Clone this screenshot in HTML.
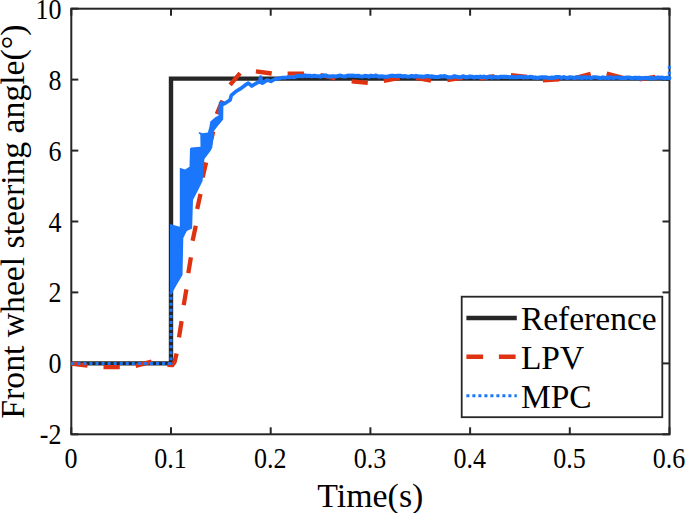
<!DOCTYPE html>
<html><head><meta charset="utf-8"><title>Front wheel steering angle</title>
<style>html,body{margin:0;padding:0;background:#fff;}body{width:685px;height:513px;overflow:hidden;font-family:"Liberation Serif",serif;}</style>
</head><body>
<svg width="685" height="513" viewBox="0 0 685 513" style="display:block">
<rect width="685" height="513" fill="#ffffff"/>
<g><rect x="71.3" y="8.7" width="598.2" height="425.6" fill="none" stroke="#262626" stroke-width="2"/><line x1="71.3" y1="434.3" x2="71.3" y2="427.3" stroke="#262626" stroke-width="2"/><line x1="71.3" y1="8.7" x2="71.3" y2="15.7" stroke="#262626" stroke-width="2"/><line x1="171.0" y1="434.3" x2="171.0" y2="427.3" stroke="#262626" stroke-width="2"/><line x1="171.0" y1="8.7" x2="171.0" y2="15.7" stroke="#262626" stroke-width="2"/><line x1="270.7" y1="434.3" x2="270.7" y2="427.3" stroke="#262626" stroke-width="2"/><line x1="270.7" y1="8.7" x2="270.7" y2="15.7" stroke="#262626" stroke-width="2"/><line x1="370.4" y1="434.3" x2="370.4" y2="427.3" stroke="#262626" stroke-width="2"/><line x1="370.4" y1="8.7" x2="370.4" y2="15.7" stroke="#262626" stroke-width="2"/><line x1="470.1" y1="434.3" x2="470.1" y2="427.3" stroke="#262626" stroke-width="2"/><line x1="470.1" y1="8.7" x2="470.1" y2="15.7" stroke="#262626" stroke-width="2"/><line x1="569.8" y1="434.3" x2="569.8" y2="427.3" stroke="#262626" stroke-width="2"/><line x1="569.8" y1="8.7" x2="569.8" y2="15.7" stroke="#262626" stroke-width="2"/><line x1="669.5" y1="434.3" x2="669.5" y2="427.3" stroke="#262626" stroke-width="2"/><line x1="669.5" y1="8.7" x2="669.5" y2="15.7" stroke="#262626" stroke-width="2"/><line x1="71.3" y1="434.3" x2="78.3" y2="434.3" stroke="#262626" stroke-width="2"/><line x1="669.5" y1="434.3" x2="662.5" y2="434.3" stroke="#262626" stroke-width="2"/><line x1="71.3" y1="363.4" x2="78.3" y2="363.4" stroke="#262626" stroke-width="2"/><line x1="669.5" y1="363.4" x2="662.5" y2="363.4" stroke="#262626" stroke-width="2"/><line x1="71.3" y1="292.4" x2="78.3" y2="292.4" stroke="#262626" stroke-width="2"/><line x1="669.5" y1="292.4" x2="662.5" y2="292.4" stroke="#262626" stroke-width="2"/><line x1="71.3" y1="221.5" x2="78.3" y2="221.5" stroke="#262626" stroke-width="2"/><line x1="669.5" y1="221.5" x2="662.5" y2="221.5" stroke="#262626" stroke-width="2"/><line x1="71.3" y1="150.6" x2="78.3" y2="150.6" stroke="#262626" stroke-width="2"/><line x1="669.5" y1="150.6" x2="662.5" y2="150.6" stroke="#262626" stroke-width="2"/><line x1="71.3" y1="79.6" x2="78.3" y2="79.6" stroke="#262626" stroke-width="2"/><line x1="669.5" y1="79.6" x2="662.5" y2="79.6" stroke="#262626" stroke-width="2"/><line x1="71.3" y1="8.7" x2="78.3" y2="8.7" stroke="#262626" stroke-width="2"/><line x1="669.5" y1="8.7" x2="662.5" y2="8.7" stroke="#262626" stroke-width="2"/></g>
<g><polyline points="71.3,363.4 171,363.4 171,78.6 669.5,78.6" fill="none" stroke="#262626" stroke-width="4.4" stroke-linejoin="miter"/><path d="M71.3,363.6 L79.0,364.6 L87.5,365.6 M103.5,367.1 L119.8,367.1 M135.7,365.8 L151.6,361.6 M167.4,364.9 L172.3,365.1 L174.6,362.0 L176.6,353.5 M179.0,337.3 L181.6,321.2 M183.7,305.1 L186.4,289.4 M188.3,273.2 L190.9,257.4 M192.6,240.7 L195.8,225.8 M197.2,209.0 L200.5,194.0 M202.6,177.4 L206.1,162.5 M209.2,148.0 L213.2,131.6 M216.7,114.0 L222.5,100.7 M230.1,84.8 L240.1,73.1 M255.9,71.4 L271.7,73.5 M287.6,73.7 L304.0,73.7 M320.3,75.0 L335.5,78.3 M351.7,81.3 L367.8,82.8 M383.8,80.8 L399.8,77.9 M416.0,78.0 L431.0,80.6 M447.3,80.0 L463.0,77.6 M479.3,78.6 L494.5,76.2 M510.9,75.1 L527.2,77.0 M542.9,80.3 L559.2,79.4 M575.0,78.0 L590.7,73.7 M606.7,73.5 L622.8,77.8 M639.5,79.3 L655.5,76.9" fill="none" stroke="#de3210" stroke-width="4.3" stroke-linejoin="round"/><polyline points="71.3,363.4 171,363.4 171,292" fill="none" stroke="#1a76fa" stroke-width="3" stroke-dasharray="3 3.05"/><polygon points="170.6,296.0 170.0,290.0 170.0,224.0 179.8,226.7 179.8,167.7 185.0,169.5 189.5,166.8 190.0,148.4 191.2,147.5 200.5,146.7 200.3,134.4 198.8,133.4 198.8,132.0 202.6,133.2 207.9,132.4 209.4,126.8 210.3,121.6 215.6,117.0 218.6,115.4 218.8,102.0 222.0,100.5 223.4,104.0 223.2,119.6 217.6,126.2 214.0,131.0 212.3,147.5 210.5,151.0 204.4,159.0 202.6,181.0 197.4,191.4 193.0,200.0 192.1,228.4 186.8,231.0 183.3,238.0 182.5,275.0 176.3,285.4 172.4,292.5" fill="#1a76fa"/><path d="M220.2,113.0 L220.6,105.3 L225.5,103.0 L230.1,100.0 L231.3,95.4 L235.4,91.8 L240.1,88.9 L244.8,85.4 L248.3,83.1 L251.8,86.0 L256.5,83.1 L259.8,81.5 L260.6,77.0 L261.4,82.6 L262.3,83.1 L267.0,80.1 L271.0,81.3 L275.2,79.0 L276.0,78.7 L277.4,79.0 L278.7,78.7 L280.4,78.0 L282.3,77.7 L284.1,77.5 L285.5,77.7 L287.8,77.0 L289.3,77.4 L291.9,77.0 L293.6,77.3 L294.9,77.1 L296.5,76.1 L297.9,76.1" fill="none" stroke="#1a76fa" stroke-width="3.7" stroke-linejoin="round" stroke-linecap="round"/><path d="M296.5,76.1 L297.9,76.1 L300.2,75.8 L302.2,76.2 L303.9,76.0 L305.2,75.4 L306.7,76.1 L308.5,75.7 L310.5,75.9 L312.1,76.3 L314.3,75.7 L316.3,76.0 L318.8,76.3 L320.4,76.6 L321.7,75.9 L324.0,75.6 L325.9,75.5 L328.0,76.4 L330.0,76.6 L331.6,76.3 L333.7,76.2 L335.5,76.5 L338.0,76.1 L340.2,75.6 L342.4,76.3 L344.9,76.5 L346.5,76.0 L348.7,75.6 L350.5,75.8 L351.9,75.6 L354.2,75.7 L355.7,76.0 L358.1,75.7 L360.0,76.2 L362.4,76.6 L364.8,75.9 L366.6,76.0 L369.0,76.7 L370.4,75.8 L372.0,75.9 L373.8,76.3 L375.4,75.6 L377.2,76.1 L379.2,76.8 L381.4,76.3 L383.4,76.5 L384.7,76.8 L387.0,76.7 L389.3,76.2 L391.1,75.8 L393.1,75.8 L394.4,76.0 L395.9,76.2 L397.1,75.8 L398.6,75.9 L400.3,75.8 L402.7,76.5 L404.1,76.1 L405.8,76.2 L407.2,76.8 L409.7,76.4 L411.6,75.9 L413.0,76.3 L414.5,76.8 L416.0,75.9 L418.5,76.5 L419.9,76.5 L421.1,76.5 L423.7,76.9 L425.9,76.2 L427.6,76.1 L429.9,76.6 L432.2,76.4 L433.7,76.9 L436.3,77.0 L438.6,77.0 L440.8,76.3 L442.7,76.5 L444.0,76.1 L445.6,76.4 L447.7,77.2 L449.6,77.2 L452.2,77.3 L453.9,76.4 L455.4,76.4 L456.9,76.9 L459.3,77.2 L461.2,77.0 L463.5,76.3 L465.6,77.3 L467.9,77.1 L469.8,76.5 L472.1,76.7 L474.4,77.5 L476.2,76.8 L478.7,77.2 L480.2,76.5 L481.6,77.4 L483.9,76.6 L486.3,77.6 L488.4,76.8 L490.3,76.6 L491.6,77.6 L493.7,77.1 L496.2,77.0 L498.6,77.5 L500.1,76.8 L501.7,76.8 L503.7,76.9 L505.5,76.7 L508.0,77.0 L509.8,77.3 L512.3,77.1 L514.8,77.2 L516.7,77.3 L517.9,77.2 L519.4,76.7 L521.7,76.9 L523.6,77.6 L525.6,77.1 L527.5,77.4 L529.8,76.9 L531.8,77.0 L533.4,77.7 L535.3,77.4 L537.5,77.9 L539.4,77.5 L541.3,77.4 L543.4,77.4 L545.4,77.4 L547.9,77.7 L550.3,78.0 L551.9,77.6 L554.4,77.9 L555.8,77.1 L557.6,77.0 L559.2,77.0 L561.3,77.9 L563.8,77.1 L566.0,77.8 L567.4,78.0 L569.9,77.3 L572.4,77.5 L574.3,78.2 L576.7,77.2 L578.5,77.7 L580.2,77.3 L581.8,78.0 L583.0,77.8 L584.9,77.1 L586.5,77.9 L588.4,77.2 L591.0,78.1 L593.6,77.3 L595.2,77.2 L597.4,77.5 L598.8,77.7 L601.3,78.2 L602.9,77.4 L605.3,78.0 L607.5,77.4 L608.8,78.1 L610.6,77.4 L613.1,78.1 L615.4,77.5 L617.8,77.5 L620.2,77.9 L621.9,78.1 L624.4,77.7 L625.8,78.0 L627.3,77.5 L628.8,77.5 L630.2,77.8 L631.9,78.3 L633.5,78.0 L634.9,77.8 L636.2,77.7 L637.4,78.3 L639.3,77.7 L641.2,78.6 L642.6,78.4 L644.4,78.0 L646.7,77.9 L648.6,78.3 L651.2,77.9 L653.6,78.3 L655.7,78.0 L657.4,77.5 L658.7,77.6 L661.0,77.8 L662.4,77.6 L664.8,78.5 L666.9,77.8 L668.5,77.8 L669.3,78.1" fill="none" stroke="#1a76fa" stroke-width="4.1" stroke-linejoin="round" stroke-linecap="round"/></g>
<g><rect x="667.8" y="65.8" width="3" height="3" fill="#1a76fa"/><rect x="667.8" y="71.6" width="3" height="3" fill="#1a76fa"/><rect x="667.8" y="76.4" width="3" height="3.6" fill="#1a76fa"/></g>
<g font-family="'Liberation Serif', serif" fill="#000"><rect x="461.7" y="296.7" width="200.6" height="120.5" fill="#fff" stroke="#262626" stroke-width="1.8"/><line x1="466.4" y1="318.1" x2="516.8" y2="318.1" stroke="#262626" stroke-width="4.5"/><line x1="466.4" y1="356.7" x2="516.8" y2="356.7" stroke="#de3210" stroke-width="4.5" stroke-dasharray="16.7 15.8"/><line x1="466.4" y1="395.8" x2="516.8" y2="395.8" stroke="#1a76fa" stroke-width="3" stroke-dasharray="3 3"/><text transform="translate(520.9,329.6) scale(1,0.98)" font-size="33.5">Reference</text><text transform="translate(520.9,369.0) scale(1,0.98)" font-size="33.5">LPV</text><text transform="translate(520.9,407.8) scale(1,0.98)" font-size="33.5">MPC</text></g>
<g font-family="'Liberation Serif', serif" fill="#000"><text transform="translate(70.9,468.2) scale(1,1.1)" font-size="26" text-anchor="middle">0</text><text transform="translate(170.6,468.2) scale(1,1.1)" font-size="26" text-anchor="middle">0.1</text><text transform="translate(270.3,468.2) scale(1,1.1)" font-size="26" text-anchor="middle">0.2</text><text transform="translate(370.0,468.2) scale(1,1.1)" font-size="26" text-anchor="middle">0.3</text><text transform="translate(469.7,468.2) scale(1,1.1)" font-size="26" text-anchor="middle">0.4</text><text transform="translate(569.4,468.2) scale(1,1.1)" font-size="26" text-anchor="middle">0.5</text><text transform="translate(669.1,468.2) scale(1,1.1)" font-size="26" text-anchor="middle">0.6</text><text transform="translate(61.4,444.3) scale(1,1.1)" font-size="26" text-anchor="end">-2</text><text transform="translate(61.4,373.4) scale(1,1.1)" font-size="26" text-anchor="end">0</text><text transform="translate(61.4,302.4) scale(1,1.1)" font-size="26" text-anchor="end">2</text><text transform="translate(61.4,231.5) scale(1,1.1)" font-size="26" text-anchor="end">4</text><text transform="translate(61.4,160.6) scale(1,1.1)" font-size="26" text-anchor="end">6</text><text transform="translate(61.4,89.6) scale(1,1.1)" font-size="26" text-anchor="end">8</text><text transform="translate(61.4,18.7) scale(1,1.1)" font-size="26" text-anchor="end">10</text><text transform="translate(370.3,506.9) scale(1,1.02)" font-size="33.9" text-anchor="middle">Time(s)</text><text transform="translate(23.7,221.6) rotate(-90) scale(1,1.02)" font-size="33.7" text-anchor="middle">Front wheel steering angle(°)</text></g>
</svg>
</body></html>
